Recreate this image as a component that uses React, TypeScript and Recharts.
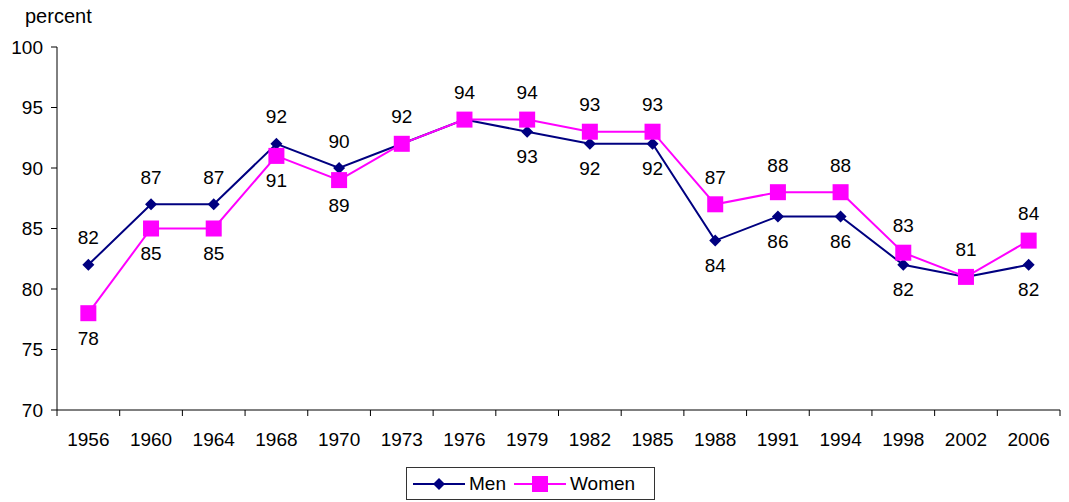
import React from 'react';
import { LineChart, Line, XAxis, YAxis, Legend } from 'recharts';

const years = ['1956', '1960', '1964', '1968', '1970', '1973', '1976', '1979', '1982', '1985', '1988', '1991', '1994', '1998', '2002', '2006'];
const men = [82, 87, 87, 92, 90, 92, 94, 93, 92, 92, 84, 86, 86, 82, 81, 82];
const women = [78, 85, 85, 91, 89, 92, 94, 94, 93, 93, 87, 88, 88, 83, 81, 84];
const yTicks = [70, 75, 80, 85, 90, 95, 100];

const MEN_COLOR = '#000080';
const WOMEN_COLOR = '#FF00FF';
const FONT = '"Liberation Sans", Arial, sans-serif';
const FS = 19;

const W = 1069;
const H = 502;
const Y_AXIS_W = 57;
const RIGHT = 9;
const BAND = (W - Y_AXIS_W - RIGHT) / years.length;

const data = years.map((year, i) => ({ i, year, men: men[i], women: women[i] }));
// category boundaries: tick marks sit between years, labels in the middle of each band
const markTicks = [...years.map((_, i) => i - 0.5), years.length - 0.5];

const YearTick = (props: any) => {
  const { x, y, payload } = props;
  const idx = payload.value + 0.5;
  if (idx >= years.length) return <g />;
  return (
    <text x={x + BAND / 2} y={y} dy="0.71em" textAnchor="middle" fontSize={FS} fontFamily={FONT} fill="#000">
      {years[idx]}
    </text>
  );
};

const Diamond = (props: any) => {
  const { cx, cy, index } = props;
  if (cx == null || cy == null) return null;
  const r = 6;
  return (
    <polygon
      key={`d-${index}`}
      points={`${cx},${cy - r} ${cx + r},${cy} ${cx},${cy + r} ${cx - r},${cy}`}
      fill={MEN_COLOR}
    />
  );
};

const Square = (props: any) => {
  const { cx, cy, index } = props;
  if (cx == null || cy == null) return null;
  const s = 8;
  return <rect key={`s-${index}`} x={cx - s} y={cy - s} width={s * 2} height={s * 2} fill={WOMEN_COLOR} />;
};

const valueText = (x: number, y: number, v: number, key: string) => (
  <text key={key} x={x} y={y} textAnchor="middle" dominantBaseline="central" fontSize={FS} fontFamily={FONT} fill="#000">
    {v}
  </text>
);

const menLabel = (props: any) => {
  const { x, y, index } = props;
  const above = men[index] >= women[index];
  return valueText(x, above ? y - 27 : y + 25, men[index], `ml-${index}`);
};

const womenLabel = (props: any) => {
  const { x, y, index } = props;
  if (women[index] === men[index]) return <g key={`wl-${index}`} />;
  const above = women[index] > men[index];
  return valueText(x, above ? y - 27 : y + 25, women[index], `wl-${index}`);
};

const LegendBox = () => (
  <div
    style={{
      border: '1px solid #333',
      width: 249,
      height: 33,
      display: 'flex',
      alignItems: 'center',
      fontFamily: FONT,
      fontSize: FS,
      color: '#000',
      background: '#fff',
      boxSizing: 'border-box',
    }}
  >
    <svg width={52} height={20} style={{ marginLeft: 6 }}>
      <line x1={0} y1={10} x2={52} y2={10} stroke={MEN_COLOR} strokeWidth={2} />
      <polygon points="26,4 32,10 26,16 20,10" fill={MEN_COLOR} />
    </svg>
    <span style={{ marginLeft: 4 }}>Men</span>
    <svg width={52} height={20} style={{ marginLeft: 8 }}>
      <line x1={0} y1={10} x2={52} y2={10} stroke={WOMEN_COLOR} strokeWidth={2} />
      <rect x={18} y={2} width={16} height={16} fill={WOMEN_COLOR} />
    </svg>
    <span style={{ marginLeft: 4 }}>Women</span>
  </div>
);

export default function App() {
  return (
    <div style={{ position: 'absolute', left: 0, top: 0, width: W, height: H, background: '#fff' }}>
      <div style={{ position: 'absolute', left: 25, top: 5, fontFamily: FONT, fontSize: 20, color: '#000' }}>percent</div>
      <LineChart width={W} height={H} data={data} margin={{ top: 47, right: RIGHT, bottom: 0, left: 0 }}>
        <XAxis
          dataKey="i"
          type="number"
          domain={[-0.5, years.length - 0.5]}
          ticks={markTicks}
          interval={0}
          height={92}
          tickSize={6}
          tickMargin={17}
          axisLine={{ stroke: '#000' }}
          tickLine={{ stroke: '#000' }}
          tick={YearTick}
        />
        <YAxis
          domain={[70, 100]}
          ticks={yTicks}
          width={Y_AXIS_W}
          interval={0}
          tickSize={6}
          tickMargin={8}
          axisLine={{ stroke: '#000' }}
          tickLine={{ stroke: '#000' }}
          tick={{ fontSize: FS, fontFamily: FONT, fill: '#000' }}
        />
        <Legend
          layout="horizontal"
          verticalAlign="middle"
          content={() => <LegendBox />}
          wrapperStyle={{ position: 'absolute', left: 406, top: 467, width: 249, height: 33 }}
        />
        <Line
          dataKey="men"
          name="Men"
          stroke={MEN_COLOR}
          strokeWidth={2}
          dot={Diamond}
          activeDot={false}
          label={menLabel}
          isAnimationActive={false}
        />
        <Line
          dataKey="women"
          name="Women"
          stroke={WOMEN_COLOR}
          strokeWidth={2}
          dot={Square}
          activeDot={false}
          label={womenLabel}
          isAnimationActive={false}
        />
      </LineChart>
    </div>
  );
}
